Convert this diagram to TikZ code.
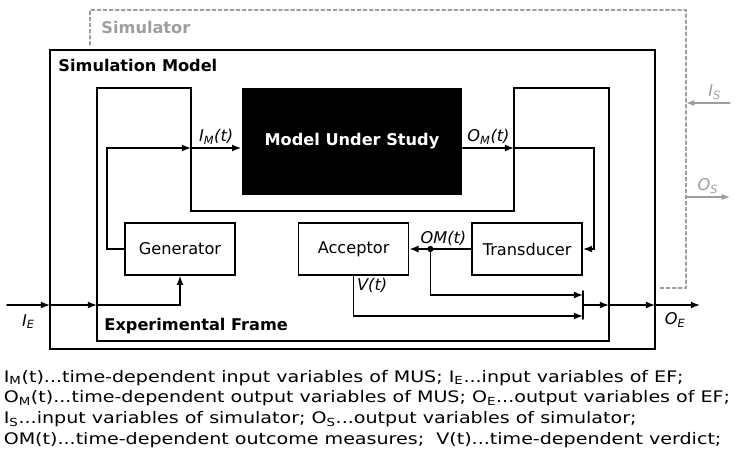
\documentclass[tikz,border=0pt]{standalone}
\usepackage{fontspec}
\setmainfont{DejaVu Sans}
\newfontfamily\legendfont[FakeStretch=1.2]{DejaVu Sans}
\usepackage{tikz}
\usetikzlibrary{arrows.meta, calc, positioning}
\definecolor{simGray}{rgb}{0.62, 0.62, 0.62}
\newcommand{\boxfont}{\fontsize{11.5}{13}\selectfont}

\begin{document}
\begin{tikzpicture}[x=0.025cm, y=-0.025cm, line cap=round, line width=1.1pt,
	block/.style={draw, minimum width=2.75cm, minimum height=1.3cm, font=\boxfont},
	sig/.style={-{Latex[length=6.5pt, width=5pt]}},
	gsig/.style={simGray, line width=0.8pt, -{Latex[length=6pt, width=4.5pt]}},
	lbl/.style={font=\boxfont\itshape, inner sep=2pt},
	title/.style={anchor=west, font=\boxfont\bfseries},
	legendline/.style={anchor=base west, inner sep=0pt, font=\legendfont\fontsize{11.3}{13}\selectfont}]

	\useasboundingbox (0,0) rectangle (739,461);

	% simulator, simulation model, experimental frame
	\draw[simGray, line width=0.8pt, dash pattern=on 2.5pt off 1.8pt] (90,45) -- (90,10) -- (686,10) -- (686,288) -- (660,288);
	\node[title, text=simGray] at (96,27) {Simulator};

	\draw (50,50) rectangle (655,349);
	\node[title] at (53,65) {Simulation Model};

	\draw (97,88) -- (191,88) -- (191,211) -- (514,211) -- (514,88) -- (609,88) -- (609,341) -- (97,341) -- cycle;
	\node[title] at (99,326) {Experimental Frame};

	% blocks
	\node[fill=black, text=white, minimum width=5.5cm, minimum height=2.675cm, font=\boxfont\bfseries] (mus) at (352,141.5) {Model Under Study};

	\node[block] (gen) at (180,249) {Generator};
	\node[block, right=1.55cm of gen] (acc) {Acceptor};
	\node[block, right=1.55cm of acc] (trans) {Transducer};

	% input side
	\coordinate (ieIn) at (7,305);
	\coordinate (ie1) at (50,305);
	\coordinate (ie2) at (97,305);
	\draw[sig] (ieIn) -- (ie1) node[lbl, midway, below, yshift=-4pt] {I\textsubscript{E}};
	\draw[sig] (ie1) -- (ie2);
	\draw[sig] (ie2) -| (gen.south);

	\coordinate (imIn) at (191,148);
	\draw[sig] (gen.west) -- ++(-17,0) |- (imIn);
	\draw[sig] (imIn) -- (imIn -| mus.west) node[lbl, midway, above] {I\textsubscript{M}(t)};

	% output side
	\coordinate (omOut) at (514,148);
	\draw[sig] (omOut -| mus.east) -- (omOut) node[lbl, midway, above] {O\textsubscript{M}(t)};
	\draw[sig] (omOut) -- (594,148) |- (trans.east);

	\coordinate (tap) at ($ (acc.east)+(21,0) $);
	\draw[sig] (trans.west) -- (acc.east) node[lbl, pos=0.45, above] {OM(t)};
	\fill (tap) circle (2.2pt);

	\coordinate (mrgTop) at (583,291);
	\coordinate (mrgBot) at (583,319);
	\draw[sig] (tap) |- (mrgTop |- 0,295);
	\draw[sig] (acc.south) |- (mrgBot |- 0,316) node[lbl, pos=0.12, right] {V(t)};
	\draw (mrgTop) -- (mrgBot);

	\coordinate (oe0) at (583,305);
	\coordinate (oe1) at (609,305);
	\coordinate (oe2) at (655,305);
	\coordinate (oeOut) at (700,305);
	\draw[sig] (oe0) -- (oe1);
	\draw[sig] (oe1) -- (oe2);
	\draw[sig] (oe2) -- (oeOut) node[lbl, pos=0.45, below, yshift=-3pt] {O\textsubscript{E}};

	% simulator ports
	\draw[gsig] (730,103) -- (686,103) node[lbl, text=simGray, pos=0.35, above] {I\textsubscript{S}};
	\draw[gsig] (686,197) -- (730,197) node[lbl, text=simGray, midway, above] {O\textsubscript{S}};

	% legend
	\node[legendline] (leg1) at (3,382) {I\textsubscript{M}(t)...time-dependent input variables of MUS; I\textsubscript{E}...input variables of EF;};
	\node[legendline] (leg2) at (3,402.7) {O\textsubscript{M}(t)...time-dependent output variables of MUS; O\textsubscript{E}...output variables of EF;};
	\node[legendline] (leg3) at (3,423.4) {I\textsubscript{S}...input variables of simulator; O\textsubscript{S}...output variables of simulator;};
	\node[legendline] (leg4) at (3,444) {OM(t)...time-dependent outcome measures;\ \ V(t)...time-dependent verdict;};

\end{tikzpicture}
\end{document}
